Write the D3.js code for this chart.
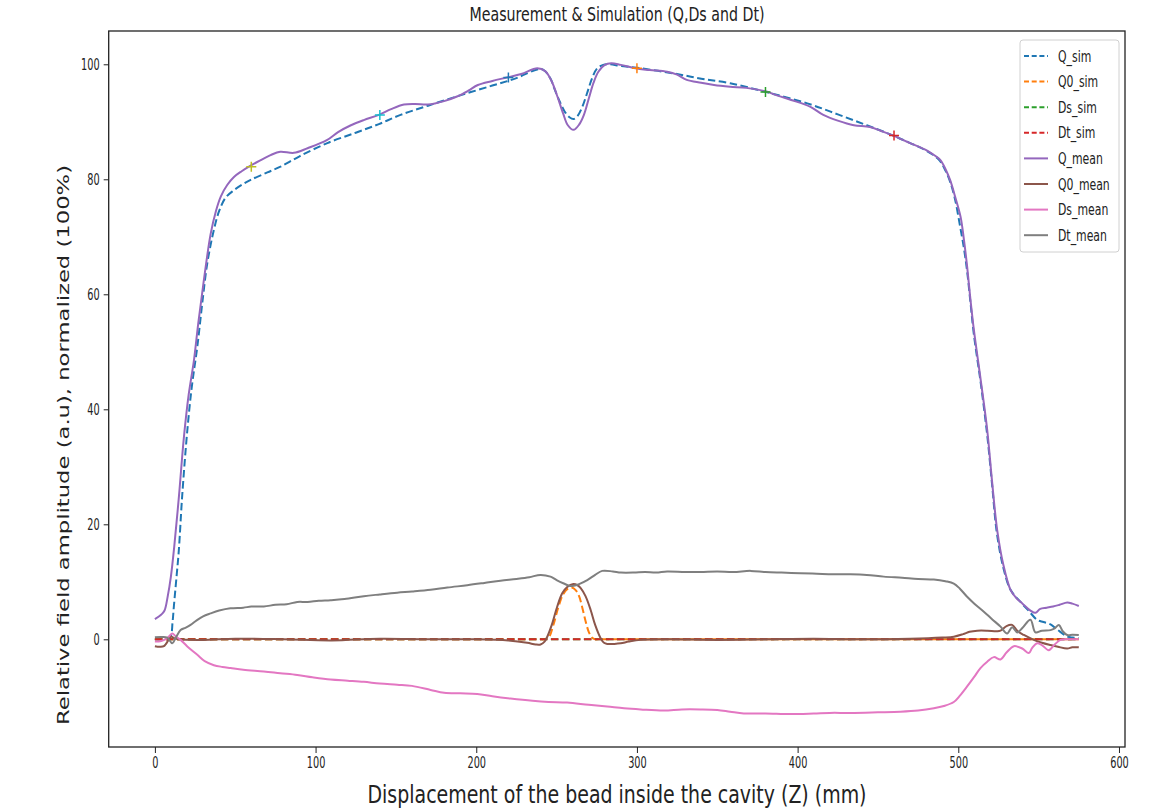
<!DOCTYPE html>
<html><head><meta charset="utf-8">
<script src="https://cdn.jsdelivr.net/npm/d3@7"></script>
<style>body{margin:0;background:#fff}svg{display:block}</style>
</head><body><svg id="c" width="1157" height="811"></svg>
<script>
// ---- data ----
const Q_sim_x = [0,5,8,9.8,11,11.8,13.5,14.9,17,20.2,23,26.4,29.5,32.6,36.7,40,44,49.2,55,59.6,70,78.2,90,107.3,125,139.4,152.9,170,190,210,225,238,242,246,249,252,255,258,260.7,263,266,269,272,275,279,283,290,300,323,340,358,380,406,425,443,459.5,470,480,488,492,495,498,501,503.5,505.5,507.6,509.7,514,518,521,524,528,532.5,538.7,544,549,553,557.4,562,567.8,571,575];
const Q_sim_y = [0,0,0.2,0.5,3,5.7,11,15.5,25,36.4,44,50.9,58.5,65.4,71.2,74.5,76.8,78.1,79.2,79.9,81.2,82.2,84,86.3,88.1,89.6,91.2,92.8,94.6,96.3,97.6,99.1,99,97.6,95.5,93.5,91.8,90.8,90.5,91,92.6,95,97.5,99.2,99.9,100,99.7,99.4,98.4,97.5,96.7,95.2,93.2,91.3,89.4,87.6,86.3,85,83.4,81.5,79.5,76.5,72,68,64,58.5,53,44.5,35.5,27,18.5,12.5,8.6,6.5,4.9,3.4,3,2.6,1.6,0.5,0.3,0.2];

const Q0_sim_x = [0,230,240,242,245,248,251,254,257,259.5,262,264,266,268,270,272,274,276,290,575];
const Q0_sim_y = [0,0,0,0,0.3,2.5,5.5,7.8,8.8,9.0,8.5,7.5,5.5,3.2,1.3,0.3,0,0,0,0];

const Ds_sim_x = [0,575];
const Ds_sim_y = [0,0];
const Dt_sim_x = [0,575];
const Dt_sim_y = [0,0];

const Q_mean_x = [0,4,6,8,10,12,15,18,21,24.3,27,30.5,34.7,38,41,45,49.2,54,58.5,65,72,78,86.5,95,107,114,122,130,139.4,147,155,162,170,180,188,195,201,210,219,228,238,243,247,250.5,254,257,260.5,264,267,270,273,276,280,284,290,299,308,318.8,325,331,340,348,358,368,380,388,396,408,416,425,435,445,452,459.5,470,480.6,486,489,492,495,498,501.4,503.5,505.5,507.6,509.7,514,518,521,524.2,528,532.5,536,540,544.9,548,551,555,559,563,567.8,571,575];
const Q_mean_y = [3.5,4.3,5,7.5,11,16,25,35,42.5,48.5,55,62.5,70.5,74.5,77,79,80.4,81.4,82.2,83.2,84.2,84.8,84.6,85.4,86.8,88.2,89.4,90.3,91.2,92.2,93,93.1,93,93.6,94.4,95.4,96.4,97.1,97.7,98.3,99.3,98.8,97,94.4,91.5,89.4,88.6,89.5,91.2,94,96.8,98.7,99.9,100.2,99.9,99.3,99,98.7,98.2,97.3,96.8,96.4,96.1,95.9,95.3,94.5,93.8,92.6,91.2,90.2,89.4,89.1,88.4,87.6,86.3,85,84,83.3,81.8,79.8,77,73.5,69.5,64.8,59,53.8,45,36.4,27.5,19,13,8.6,7.2,6.2,5,4.6,5.3,5.5,5.7,6.0,6.4,6.2,5.8];

const Q0_mean_x = [0,3,5.6,8.7,10,12,15,30,50,80,110,140,170,200,220,231.7,237,240,242.5,244.2,247,250.4,253.5,256.6,260.4,263,265,268,271.2,274,277.4,279.5,281.5,286,289.9,295,302.3,320,350,380,410,440,470,490,497.2,503,507,511.8,518,524,526.3,530,533.5,537,540.8,547,552,557.4,562,567.8,571,575];
const Q0_mean_y = [-1.2,-1.3,-1.2,0,0.5,0.2,0,-0.1,0.1,0,-0.2,0.1,0,0,-0.2,-0.6,-0.9,-0.9,-0.4,0.45,2.5,5.7,8,9.1,9.6,9.4,8.9,7.5,5.1,2.5,0.2,-0.6,-0.8,-0.8,-0.7,-0.4,-0.1,0,-0.1,0,0.1,0,0.1,0.3,0.45,0.9,1.3,1.5,1.5,1.4,1.5,2.3,2.5,1.4,0.75,-0.1,-0.6,-1.0,-1.3,-1.6,-1.4,-1.4];

const Ds_mean_x = [0,4,7.7,10.8,13,16,20,26.4,31,36.7,42,47.1,55,67.8,78,88.6,98,109.3,120,130,140,150.8,160,171.6,180,190,200.6,210,221.3,235,245,256.6,270,281.5,292,302.3,316.7,328,339.6,350,358,366.5,380,395.6,410,420,432.9,450,464,475,484.8,491,497.2,501,505.5,510,513.8,518,522.1,526.3,530,534.6,539.8,543.9,546,549,552,556.3,560,563.6,568,575];
const Ds_mean_y = [-0.4,-0.3,0.2,1.0,0.5,-0.1,-1.2,-2.7,-3.8,-4.5,-4.8,-5.0,-5.3,-5.6,-5.9,-6.2,-6.6,-7.0,-7.2,-7.4,-7.7,-7.9,-8.1,-8.8,-9.3,-9.4,-9.5,-9.9,-10.3,-10.7,-10.9,-11.0,-11.4,-11.7,-12.0,-12.2,-12.4,-12.2,-12.2,-12.3,-12.6,-12.9,-12.9,-13.0,-12.9,-12.8,-12.8,-12.7,-12.6,-12.4,-12.0,-11.6,-10.9,-9.8,-8.2,-6.5,-5.0,-3.9,-3.1,-3.5,-2.3,-1.2,-1.6,-2.4,-1.5,-0.7,-1.0,-1.9,-0.9,-0.1,0,0];

const Dt_mean_x = [0,4,7.7,10.8,13,16,19,22.2,26,30,34.6,40,47,55,60,67.8,75,82,88.6,95,102,109.3,118,130,140,150.8,160,171.6,182,194.4,205,215.1,225,233,240,246.2,250,254.5,258,260.7,264,269.1,274,278.4,285,290,298.1,305,312,318.8,330,339.6,350,360,370.7,380,390,401.8,412,422,432.9,443,453.6,465,475,484.8,492,497.2,501,505.5,510,515.9,521,526.3,530.4,533.5,536.7,540,544.9,548,552,557.4,560,562.6,565,567.8,571,575];
const Dt_mean_y = [0.35,0.4,0.3,-0.7,0.3,1.6,2.0,2.5,3.3,4.0,4.5,5.0,5.4,5.5,5.7,5.7,6.0,6.1,6.5,6.5,6.7,6.8,7.0,7.5,7.8,8.1,8.3,8.6,9.0,9.4,9.8,10.2,10.5,10.8,11.2,10.9,10.3,9.7,9.3,9.3,9.6,10.3,11.2,11.9,11.8,11.6,11.6,11.7,11.6,11.8,11.7,11.7,11.8,11.7,11.9,11.7,11.6,11.5,11.4,11.3,11.3,11.2,10.9,10.7,10.5,10.4,10.1,9.7,8.8,7.4,6.2,4.8,3.5,2.2,1.0,2.1,1.2,2.0,3.4,1.2,1.5,1.6,1.9,2.5,1.4,0.75,0.8,0.75];

// '+' markers
const mark_x = [60,140,220,300,380,460];
const mark_y = [82.2,91.2,97.7,99.3,95.2,87.6];

const xTicks = [0,100,200,300,400,500,600];
const yTicks = [0,20,40,60,80,100];
const legendLabels = ["Q_sim","Q0_sim","Ds_sim","Dt_sim","Q_mean","Q0_mean","Ds_mean","Dt_mean"];

// ---- styles ----
const seriesColors = ["#1f77b4","#ff7f0e","#2ca02c","#d62728","#9467bd","#8c564b","#e377c2","#7f7f7f"];
const markColors = ["#bcbd22","#17becf","#1f77b4","#ff7f0e","#2ca02c","#d62728"];
const SX = 0.65; // horizontal squeeze of text

const series = [
  [Q_sim_x,Q_sim_y,true],[Q0_sim_x,Q0_sim_y,true],[Ds_sim_x,Ds_sim_y,true],[Dt_sim_x,Dt_sim_y,true],
  [Q_mean_x,Q_mean_y,false],[Q0_mean_x,Q0_mean_y,false],[Ds_mean_x,Ds_mean_y,false],[Dt_mean_x,Dt_mean_y,false]
];

const L=108.7,R=1125,T=31,B=747;
const x = d3.scaleLinear().domain([-28.75,603.75]).range([L,R]);
const y = d3.scaleLinear().domain([-18.73,105.79]).range([B,T]);
const svg = d3.select("#c");
const font = "DejaVu Sans, sans-serif";

svg.append("defs").append("clipPath").attr("id","clip")
  .append("rect").attr("x",L).attr("y",T).attr("width",R-L).attr("height",B-T);

const plot = svg.append("g").attr("clip-path","url(#clip)");
const line = d3.line().x(d=>x(d[0])).y(d=>y(d[1])).curve(d3.curveCatmullRom.alpha(0.5));
series.forEach((s,i)=>{
  const pts = s[0].map((v,j)=>[v,s[1][j]]);
  plot.append("path").attr("d",line(pts)).attr("fill","none")
    .attr("stroke",seriesColors[i]).attr("stroke-width",2)
    .attr("stroke-dasharray",s[2]?"7.5,3.5":null);
});
mark_x.forEach((v,i)=>{
  const cx=x(v), cy=y(mark_y[i]);
  plot.append("path").attr("d",`M${cx-5},${cy}H${cx+5}M${cx},${cy-5}V${cy+5}`)
    .attr("stroke",markColors[i]).attr("stroke-width",1.5).attr("fill","none");
});

// axes
const xa = svg.append("g").attr("transform",`translate(0,${B})`)
  .call(d3.axisBottom(x).tickValues(xTicks).tickSize(6).tickPadding(4).tickFormat(d3.format("d")));
xa.select(".domain").remove();
xa.selectAll("text").attr("font-family",font).attr("font-size",15).attr("fill","#222")
  .attr("transform",`scale(${SX},1)`);
xa.selectAll("line").attr("stroke","#222");
const ya = svg.append("g").attr("transform",`translate(${L},0)`)
  .call(d3.axisLeft(y).tickValues(yTicks).tickSize(5).tickPadding(4).tickFormat(d3.format("d")));
ya.select(".domain").remove();
ya.selectAll("text").attr("font-family",font).attr("font-size",15).attr("fill","#222")
  .attr("x",-9/SX).attr("transform",`scale(${SX},1)`);
ya.selectAll("line").attr("stroke","#222");

svg.append("rect").attr("x",L).attr("y",T).attr("width",R-L).attr("height",B-T)
  .attr("fill","none").attr("stroke","#222").attr("stroke-width",1.3);

// title & labels
svg.append("text").attr("x",617).attr("y",21).attr("text-anchor","middle")
  .attr("font-family",font).attr("font-size",19).attr("fill","#222")
  .attr("textLength",295).attr("lengthAdjust","spacingAndGlyphs")
  .text("Measurement & Simulation (Q,Ds and Dt)");
svg.append("text").attr("x",617).attr("y",803).attr("text-anchor","middle")
  .attr("font-family",font).attr("font-size",25).attr("fill","#222")
  .attr("textLength",499).attr("lengthAdjust","spacingAndGlyphs")
  .text("Displacement of the bead inside the cavity (Z) (mm)");
svg.append("text").attr("transform",`translate(63,445) scale(0.75,1) rotate(-90)`)
  .attr("text-anchor","middle").attr("dominant-baseline","central")
  .attr("font-family",font).attr("font-size",21).attr("fill","#222")
  .attr("textLength",560).attr("lengthAdjust","spacingAndGlyphs")
  .text("Relative field amplitude (a.u), normalized (100%)");

// legend
const lg = svg.append("g");
lg.append("rect").attr("x",1020).attr("y",40).attr("width",99).attr("height",212).attr("rx",3)
  .attr("fill","#fff").attr("fill-opacity",0.85).attr("stroke","#d0d0d0");
legendLabels.forEach((t,i)=>{
  const cy = 56 + i*25.6;
  lg.append("line").attr("x1",1024).attr("x2",1048).attr("y1",cy).attr("y2",cy)
    .attr("stroke",seriesColors[i]).attr("stroke-width",2)
    .attr("stroke-dasharray",series[i][2]?"5,2.7":null);
  lg.append("text").attr("transform",`translate(1058,${cy+5.5}) scale(0.68,1)`)
    .attr("font-family",font).attr("font-size",16).attr("fill","#222").text(t);
});
</script></body></html>
